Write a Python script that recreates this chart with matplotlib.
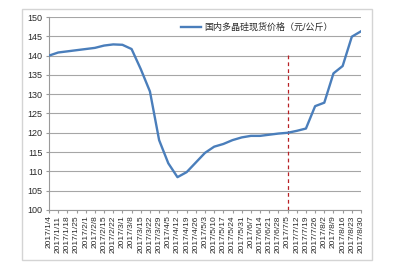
import matplotlib
matplotlib.use("Agg")
import matplotlib.pyplot as plt
from matplotlib.patches import Rectangle

plt.rcParams['font.family'] = ['Liberation Sans', 'Noto Sans CJK SC', 'DejaVu Sans']

dates = ["2017/1/4", "2017/1/11", "2017/1/18", "2017/1/25", "2017/2/1", "2017/2/8",
         "2017/2/15", "2017/2/22", "2017/3/1", "2017/3/8", "2017/3/15", "2017/3/22",
         "2017/3/29", "2017/4/5", "2017/4/12", "2017/4/19", "2017/4/26", "2017/5/3",
         "2017/5/10", "2017/5/17", "2017/5/24", "2017/5/31", "2017/6/7", "2017/6/14",
         "2017/6/21", "2017/6/28", "2017/7/5", "2017/7/12", "2017/7/19", "2017/7/26",
         "2017/8/2", "2017/8/9", "2017/8/16", "2017/8/23", "2017/8/30"]
prices = [140.0, 140.8, 141.1, 141.4, 141.7, 142.0, 142.6, 142.9, 142.8, 141.7,
          136.5, 130.7, 118.1, 112.1, 108.5, 109.8, 112.3, 114.8, 116.4, 117.1,
          118.1, 118.8, 119.2, 119.2, 119.5, 119.8, 120.0, 120.5, 121.1, 126.9,
          127.8, 135.4, 137.3, 144.9, 146.3]
series_name = "国内多晶硅现货价格（元/公斤）"
marker_index = 26
marker_top = 141
yticks = list(range(100, 151, 5))

fig = plt.figure(figsize=(4.0, 2.77), dpi=100)
fig.patch.set_facecolor('white')
fig.add_artist(Rectangle((0.055, 0.0614), 0.875, 0.906, transform=fig.transFigure,
                         fill=False, edgecolor='#d4d4d4', linewidth=1.0))

ax = fig.add_axes([0.1225, 0.242, 0.78, 0.6966])
x = list(range(len(dates)))
ax.plot(x, prices, color='#4a7ebb', linewidth=1.7, label=series_name, zorder=3)
ax.vlines(marker_index, 100, marker_top, colors='#b82025', linestyles=(0, (3, 2.5)),
          linewidth=0.9, zorder=2)

ax.set_xlim(0, len(dates) - 1)
ax.set_ylim(100, 150)
ax.set_yticks(yticks)
ax.set_yticklabels([str(v) for v in yticks], fontsize=6.5, color='#2a2a2a')
ax.set_xticks(x)
ax.set_xticklabels(dates, rotation=90, fontsize=6.0, color='#2a2a2a')
ax.grid(axis='y', color='#a6a6a6', linewidth=0.8)
ax.set_axisbelow(True)
for s in ['top', 'right']:
    ax.spines[s].set_visible(False)
ax.spines['left'].set_color('#9a9a9a')
ax.spines['bottom'].set_color('#9a9a9a')
ax.tick_params(axis='x', length=2.5, color='#9a9a9a', pad=1.5)
ax.tick_params(axis='y', length=2.5, color='#9a9a9a', pad=2)

leg = ax.legend(loc='upper left', bbox_to_anchor=(0.413, 0.99), frameon=False,
                fontsize=6.5, handlelength=2.2, handletextpad=0.3, borderaxespad=0)
for t in leg.get_texts():
    t.set_color('#2a2a2a')

fig.savefig('out.png', dpi=100)
